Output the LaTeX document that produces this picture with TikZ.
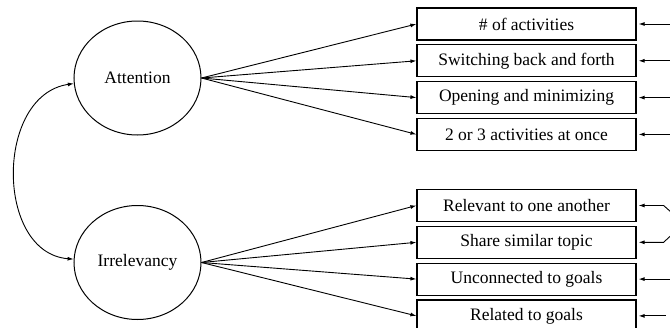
\documentclass[tikz,border=0pt]{standalone}
\usepackage{fontspec}
\setmainfont{Liberation Serif}
\usetikzlibrary{positioning,shapes.geometric,arrows.meta}
\newcommand\ysep{3.6pt}
\newcommand\errlen{34pt}

\begin{document}
\begin{tikzpicture}[
    x=1pt,y=-1pt,
    font=\fontsize{17.5}{20}\selectfont,
    latent/.style={draw,ellipse,line width=1pt,minimum width=127pt,minimum height=114pt,inner sep=0pt},
    item/.style={draw,rectangle,line width=1.2pt,minimum width=219pt,minimum height=32pt,inner sep=0pt},
    load/.style={line width=0.9pt,-{Latex[length=6pt,width=4pt]}},
    err/.style={line width=0.9pt,-{Latex[length=6pt,width=4pt]},shorten >=2pt}
  ]
    \useasboundingbox (0,0) rectangle (670,327);

    % factors
    \node[latent] (Att) at (137.5,78) {Attention};
    \node[latent] (Irr) at (137.5,262.5) {Irrelevancy};

    % items
    \node[item] (A1) at (526.5,24) {\# of activities};
    \node[item,below=\ysep of A1] (A2) {Switching back and forth};
    \node[item,below=\ysep of A2] (A3) {Opening and minimizing};
    \node[item,below=\ysep of A3] (A4) {2 or 3 activities at once};

    \node[item] (I1) at (526.5,205.5) {Relevant to one another};
    \node[item,below=\ysep of I1] (I2) {Share similar topic};
    \node[item,below=\ysep of I2] (I3) {Unconnected to goals};
    \node[item,below=\ysep of I3] (I4) {Related to goals};

    % loadings
    \draw[load] (Att.east) -- (A1.west);
    \draw[load] (Att.east) -- (A2.west);
    \draw[load] (Att.east) -- (A3.west);
    \draw[load] (Att.east) -- (A4.west);
    \draw[load] (Irr.east) -- (I1.west);
    \draw[load] (Irr.east) -- (I2.west);
    \draw[load] (Irr.east) -- (I3.west);
    \draw[load] (Irr.east) -- (I4.west);

    % factor covariance
    \draw[line width=0.9pt,{Latex[length=6pt,width=4pt]}-{Latex[length=6pt,width=4pt]}]
      (Att.185) .. controls (-5,95) and (-5,253) .. (Irr.177);

    % error terms
    \draw[err] ([xshift=\errlen]A1.east) -- (A1.east);
    \draw[err] ([xshift=\errlen]A2.east) -- (A2.east);
    \draw[err] ([xshift=\errlen]A3.east) -- (A3.east);
    \draw[err] ([xshift=\errlen]A4.east) -- (A4.east);
    \draw[err] ([xshift=\errlen]I3.east) -- (I3.east);
    \draw[err] ([xshift=29pt]I4.east) -- (I4.east);

    % correlated errors
    \coordinate (E12) at (684,223.5);
    \draw[err] (E12) -- ([xshift=27pt]I1.east) -- (I1.east);
    \draw[err] (E12) -- ([xshift=27pt]I2.east) -- (I2.east);
  \end{tikzpicture}
\end{document}
